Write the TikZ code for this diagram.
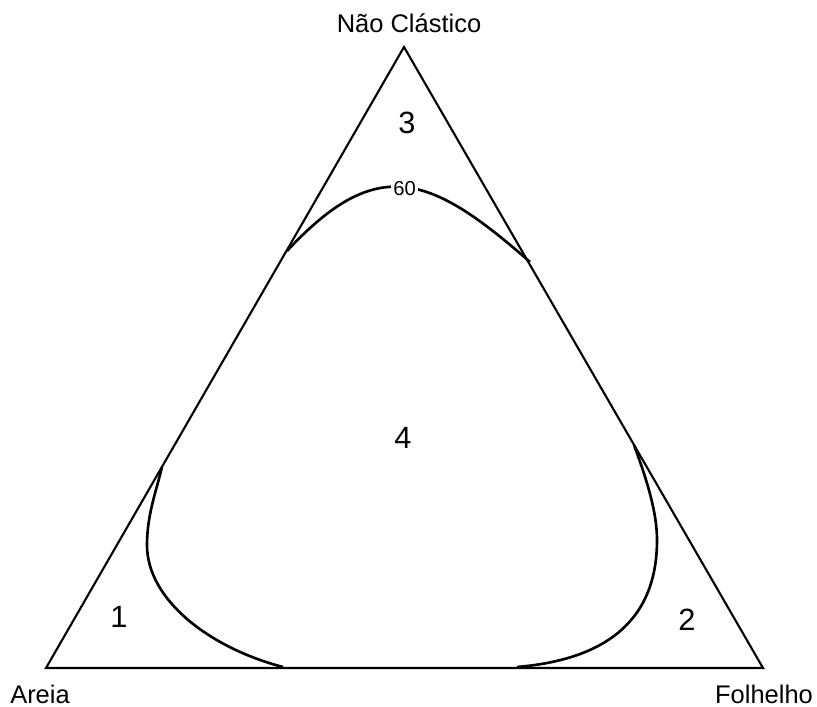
\documentclass[tikz,border=0pt]{standalone}
\usepackage{fontspec}
\setmainfont{Liberation Sans}
\begin{document}
\begin{tikzpicture}[x=0.02cm,y=-0.02cm,
  side/.style={line width=1.2pt,line join=miter},
  contour/.style={line width=1.5pt},
  corner/.style={font=\fontsize{14.5}{16}\selectfont,anchor=base,inner sep=0pt},
  field/.style={font=\fontsize{17.5}{19}\selectfont,anchor=base,inner sep=0pt},
  isolabel/.style={font=\fontsize{11.5}{13}\selectfont,fill=white,inner xsep=1.5pt,inner ysep=1pt}]
\useasboundingbox (0,0) rectangle (817,706);
\coordinate (A) at (46,668);
\coordinate (C) at (404,47);
\coordinate (F) at (763,668);
\draw[side] (A) -- (C) -- (F) -- cycle;
% contour 60
\coordinate (L1) at (287,251);
\coordinate (R1) at (530,262);
\coordinate (L2) at (162,467);
\coordinate (R2) at (634,445);
\coordinate (LB) at (283,667);
\coordinate (RB) at (517,667);
\draw[contour] (L1) .. controls (377,154) and (430,174) .. (R1);
\draw[contour] (L2) .. controls (156,492) and (147,515) .. (147,545)
  .. controls (147,600) and (210,648) .. (LB);
\draw[contour] (R2) .. controls (645,475) and (657,510) .. (657,540)
  .. controls (657,625) and (600,660) .. (RB);
\node[isolabel] (iso) at (404.5,188.5) {60};
% labels
\node[corner] (nc) at (409,33) {Não Clástico};
\node[corner] (ar) at (40,703) {Areia};
\node[corner] (fo) at (764,703) {Folhelho};
\node[field] (f3) at (407,133) {3};
\node[field] (f4) at (403,448) {4};
\node[field] (f1) at (119,627) {1};
\node[field] (f2) at (687,630) {2};
\end{tikzpicture}
\end{document}
